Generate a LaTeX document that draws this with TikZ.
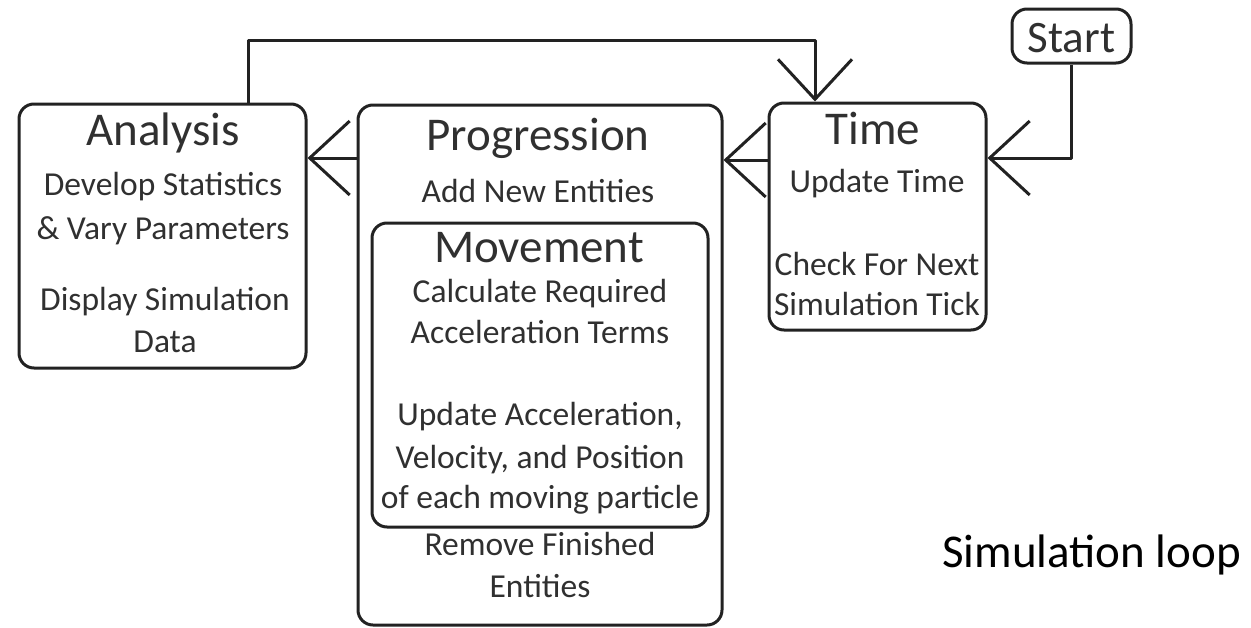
\documentclass[tikz,border=0pt]{standalone}
\usepackage{fontspec}
\setmainfont{Carlito}
\usetikzlibrary{arrows.meta}
\definecolor{ln}{HTML}{222222}
\definecolor{tx}{HTML}{303030}
\begin{document}
\begin{tikzpicture}[x=1pt,y=-1pt,
  box/.style={draw=ln,line width=3pt,rounded corners=15pt,inner sep=0pt,minimum width=#1},
  ttl/.style={anchor=base,text=tx,inner sep=0pt,font=\fontsize{47}{50}\selectfont},
  bdy/.style={anchor=base,text=tx,inner sep=0pt,font=\fontsize{33.5}{40}\selectfont},
  arr/.style={draw=ln,line width=3pt,line join=round,-{Straight Barb[length=40pt,width=74pt,line width=3pt]}}]
\useasboundingbox (0,0) rectangle (1251,627);
% boxes
\node[box=287pt,minimum height=264pt] (ana) at (162.5,236) {};
\node[box=364pt,minimum height=520pt] (prog) at (540,365) {};
\node[box=336pt,minimum height=304pt] (mov) at (540,375) {};
\node[box=217pt,minimum height=227pt] (time) at (877.5,216.5) {};
\node[box=119pt,minimum height=54pt] (start) at (1071.5,36) {};
% analysis text
\node[ttl] (t1) at (163,145) {Analysis};
\node[bdy] (t2) at (163,195) {Develop Statistics};
\node[bdy] (t3) at (163,239) {\& Vary Parameters};
\node[bdy] (t4) at (165,310) {Display Simulation};
\node[bdy] (t5) at (165,352) {Data};
% progression text
\node[ttl] (p1) at (538,150) {Progression};
\node[bdy] (p2) at (538,202) {Add New Entities};
\node[ttl] (m1) at (539,262) {Movement};
\node[bdy] (m2) at (540,302) {Calculate Required};
\node[bdy] (m3) at (540,343) {Acceleration Terms};
\node[bdy] (m4) at (540,425) {Update Acceleration,};
\node[bdy] (m5) at (540,468) {Velocity, and Position};
\node[bdy] (m6) at (540,508) {of each moving particle};
\node[bdy] (p3) at (540,555) {Remove Finished};
\node[bdy] (p4) at (540,597) {Entities};
% time text
\node[ttl] (ti1) at (873,144) {Time};
\node[bdy] (ti2) at (877,192) {Update Time};
\node[bdy] (ti3) at (877,275) {Check For Next};
\node[bdy] (ti4) at (877,315) {Simulation Tick};
% start text
\node[ttl,font=\fontsize{45}{48}\selectfont] (s1) at (1071.5,52) {Start};
% caption
\node[anchor=base west,inner sep=0pt,text=black,font=\fontsize{47}{50}\selectfont] (cap) at (942,567) {Simulation loop};
% connectors
\coordinate (r1) at (0,158);
\coordinate (r2) at (0,160);
\coordinate (r3) at (0,158);
\coordinate (fbL) at (248,40);
\coordinate (fbR) at (815,40);
\draw[arr] (prog.west |- r1) -- (ana.east |- r1);
\draw[arr] (time.west |- r2) -- (prog.east |- r2);
\draw[arr] (start.south) |- (time.east |- r3);
\draw[arr] (ana.north -| fbL) -- (fbL) -- (fbR) -- (time.north -| fbR);
\end{tikzpicture}
\end{document}
